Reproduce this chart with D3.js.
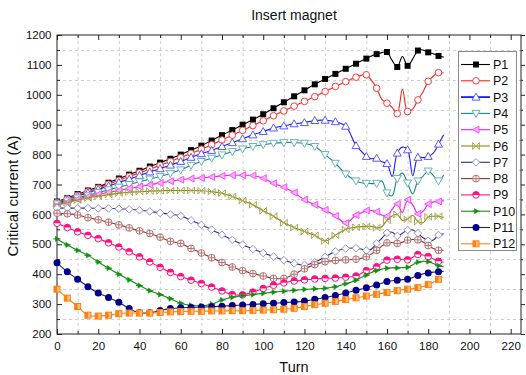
<!DOCTYPE html>
<html>
<head>
<meta charset="utf-8">
<script src="https://cdn.jsdelivr.net/npm/d3@7"></script>
<style>
  body { margin: 0; background: #fff; }
  svg { font-family: "Liberation Sans", Arial, sans-serif; display: block; }
</style>
</head>
<body>
<div id="chart"></div>
<script>
// turns where the symbols sit, and the extra points the curves go through
const turns = [0, 5, 10, 15, 20, 25, 30, 35, 40, 45, 50, 55, 60, 65, 70, 75, 80, 85, 90, 95,
  100, 105, 110, 115, 120, 125, 130, 135, 140, 145, 150, 155, 160, 165, 170, 175, 180, 185];
const fineTurns = [147.5, 152.5, 157.5, 162.5, 167.5, 172.5, 177.5, 182.5, 187.5];

const seriesNames = ['P1', 'P2', 'P3', 'P4', 'P5', 'P6', 'P7', 'P8', 'P9', 'P10', 'P11', 'P12'];

const p1 = [643, 655, 668, 680, 692, 706, 720, 733, 746, 760, 773, 786, 800, 815, 830, 847, 865, 882, 900, 917,
  935, 955, 975, 995, 1015, 1035, 1053, 1070, 1087, 1104, 1121, 1136, 1143, 1093, 1097, 1148, 1142, 1130];
const p2 = [640, 652, 664, 676, 688, 701, 714, 727, 739, 752, 764, 777, 790, 804, 818, 833, 849, 865, 881, 897,
  913, 930, 946, 962, 978, 994, 1011, 1028, 1044, 1059, 1067, 1022, 972, 937, 944, 983, 1045, 1074];
const p3 = [637, 649, 661, 672, 684, 695, 707, 718, 730, 742, 753, 765, 777, 791, 803, 814, 827, 840, 853, 866,
  877, 889, 896, 903, 907, 914, 915, 910, 895, 830, 794, 788, 770, 805, 816, 791, 794, 835];
const p4 = [635, 645, 655, 664, 673, 682, 691, 700, 709, 718, 727, 737, 749, 764, 777, 788, 799, 810, 819, 827,
  833, 838, 840, 840, 838, 827, 800, 771, 735, 712, 704, 704, 672, 720, 705, 712, 745, 712];
const p5 = [630, 641, 651, 660, 667, 674, 680, 687, 693, 699, 705, 711, 716, 720, 722, 725, 729, 731, 731, 730,
  721, 704, 691, 673, 649, 632, 615, 595, 571, 598, 613, 609, 594, 635, 649, 602, 635, 643];
const p6 = [632, 640, 648, 655, 661, 666, 671, 674, 676, 678, 679, 680, 680, 680, 679, 676, 671, 660, 646, 632,
  612, 594, 572, 556, 543, 530, 511, 530, 550, 557, 560, 555, 580, 600, 584, 576, 592, 594];
const p7 = [621, 621, 621, 621, 620, 620, 619, 617, 614, 610, 605, 600, 595, 580, 565, 549, 532, 515, 499, 484,
  471, 459, 447, 436, 431, 440, 458, 476, 486, 487, 479, 503, 538, 528, 548, 537, 512, 531];
const p8 = [604, 602, 598, 589, 582, 574, 565, 555, 545, 536, 524, 510, 503, 486, 471, 455, 439, 424, 412, 402,
  394, 386, 386, 400, 418, 432, 442, 446, 448, 450, 458, 480, 505, 503, 514, 515, 496, 480];
const p9 = [570, 556, 542, 530, 519, 505, 491, 475, 458, 441, 423, 406, 392, 380, 369, 357, 344, 332, 331, 340,
  352, 363, 371, 377, 381, 384, 386, 387, 390, 394, 412, 425, 447, 450, 448, 466, 459, 443];
const p10 = [518, 498, 480, 463, 441, 420, 400, 381, 362, 345, 332, 318, 303, 296, 294, 300, 314, 323, 328, 332,
  336, 340, 343, 346, 349, 351, 353, 358, 368, 380, 397, 412, 420, 421, 423, 440, 442, 428];
const p11 = [438, 408, 383, 358, 337, 322, 306, 285, 271, 271, 279, 285, 288, 289, 290, 291, 293, 295, 297, 299,
  301, 303, 305, 307, 310, 316, 322, 329, 337, 346, 355, 364, 376, 380, 383, 396, 404, 408];
const p12 = [350, 320, 292, 263, 260, 263, 268, 270, 270, 270, 272, 274, 275, 276, 276, 277, 277, 278, 278, 279,
  280, 281, 283, 286, 292, 298, 303, 309, 315, 321, 327, 333, 339, 345, 350, 355, 365, 383];

const p1Fine = [1113, 1130, 1141, 1115, 1128, 1120, 1150, 1137, 1126];
const p2Fine = [1065, 1048, 985, 958, 1019, 952, 1010, 1063, 1073];
const p3Fine = [812, 786, 776, 727, 825, 729, 790, 805, 866];
const p4Fine = [706, 703, 712, 662, 738, 668, 728, 730, 732];
const p5Fine = [605, 613, 598, 617, 606, 632, 610, 642, 646];
const p6Fine = [559, 560, 559, 595, 580, 597, 572, 594, 590];
const p7Fine = [484, 484, 520, 540, 537, 548, 522, 514, 535];
const p8Fine = [453, 468, 494, 506, 507, 516, 508, 486, 480];
const p9Fine = [402, 417, 437, 451, 449, 457, 464, 451, 440];
const p10Fine = [389, 406, 417, 421, 422, 432, 443, 436, 424];
const p11Fine = [350, 360, 370, 378, 382, 389, 401, 407, 410];
const p12Fine = [324, 330, 336, 342, 348, 352, 359, 373, 392];

const xTicks = [0, 20, 40, 60, 80, 100, 120, 140, 160, 180, 200, 220];
const xMinor = [10, 30, 50, 70, 90, 110, 130, 150, 170, 190, 210];
const yTicks = [200, 300, 400, 500, 600, 700, 800, 900, 1000, 1100, 1200];
const yMinor = [250, 350, 450, 550, 650, 750, 850, 950, 1050, 1150];

const allValues = [p1, p2, p3, p4, p5, p6, p7, p8, p9, p10, p11, p12];
const allFine = [p1Fine, p2Fine, p3Fine, p4Fine, p5Fine, p6Fine, p7Fine, p8Fine, p9Fine, p10Fine, p11Fine, p12Fine];

// look of each series: line colour, symbol kind, symbol stroke and fill
const styles = [
  { line: '#000000', kind: 'square', stroke: '#000000', fill: '#000000' },
  { line: '#ff2020', kind: 'circle', stroke: '#ff3a3a', fill: '#ffffff' },
  { line: '#1a1aff', kind: 'triUp', stroke: '#5a5aff', fill: '#ffffff' },
  { line: '#108a8a', kind: 'triDown', stroke: '#6ab4b4', fill: '#ffffff' },
  { line: '#ff10ff', kind: 'triLeft', stroke: '#ff50ff', fill: '#ffb0ff' },
  { line: '#8a8a10', kind: 'bowtie', stroke: '#a8a850', fill: 'none' },
  { line: '#2a2a96', kind: 'diamond', stroke: '#9090dc', fill: '#ffffff' },
  { line: '#963434', kind: 'circlePlus', stroke: '#b67070', fill: '#ffffff' },
  { line: '#ff1080', kind: 'halfCircle', stroke: '#ff1080', fill: '#ffffff' },
  { line: '#109010', kind: 'triRight', stroke: '#109010', fill: '#109010' },
  { line: '#1a1aa8', kind: 'dot', stroke: '#00008a', fill: '#00008a' },
  { line: '#ff8010', kind: 'halfSquare', stroke: '#ff8010', fill: '#ffc080' }
];

const svg = d3.select('#chart').append('svg')
  .attr('width', 526)
  .attr('height', 375);

const x = d3.scaleLinear().domain([0, 225]).range([57, 521]);
const y = d3.scaleLinear().domain([200, 1200]).range([334, 35]);

// dashed grid at the minor positions
const grid = svg.append('g').attr('stroke', '#cfcfcf').attr('stroke-dasharray', '3,3').attr('stroke-width', 1);
grid.selectAll('.gx').data(xMinor).join('line')
  .attr('x1', d => x(d) + 0.5).attr('x2', d => x(d) + 0.5)
  .attr('y1', y(1200)).attr('y2', y(200));
grid.selectAll('.gy').data(yMinor).join('line')
  .attr('y1', d => Math.round(y(d)) + 0.5).attr('y2', d => Math.round(y(d)) + 0.5)
  .attr('x1', x(0)).attr('x2', x(225));

// axes
function styleAxis(g) {
  g.select('.domain').remove();
  g.selectAll('line').attr('stroke', '#222');
  g.selectAll('text').attr('fill', '#111').style('font-size', '11.5px');
}

svg.append('g')
  .attr('transform', `translate(0,${y(200)})`)
  .call(d3.axisBottom(x).tickValues(xTicks).tickSize(-5).tickPadding(8).tickFormat(d3.format('d')))
  .call(styleAxis);
svg.append('g')
  .attr('transform', `translate(0,${y(200)})`)
  .call(d3.axisBottom(x).tickValues(xMinor).tickSize(-3).tickFormat(''))
  .call(styleAxis);
svg.append('g')
  .attr('transform', `translate(0,${y(1200)})`)
  .call(d3.axisTop(x).tickValues(xTicks).tickSize(-5).tickFormat(''))
  .call(styleAxis);
svg.append('g')
  .attr('transform', `translate(0,${y(1200)})`)
  .call(d3.axisTop(x).tickValues(xMinor).tickSize(-3).tickFormat(''))
  .call(styleAxis);
svg.append('g')
  .attr('transform', `translate(${x(0)},0)`)
  .call(d3.axisLeft(y).tickValues(yTicks).tickSize(-5).tickPadding(5.5).tickFormat(d3.format('d')))
  .call(styleAxis);
svg.append('g')
  .attr('transform', `translate(${x(0)},0)`)
  .call(d3.axisLeft(y).tickValues(yMinor).tickSize(-3).tickFormat(''))
  .call(styleAxis);
svg.append('g')
  .attr('transform', `translate(${x(225)},0)`)
  .call(d3.axisRight(y).tickValues(yTicks).tickSize(4).tickFormat(''))
  .call(styleAxis);
svg.append('g')
  .attr('transform', `translate(${x(225)},0)`)
  .call(d3.axisRight(y).tickValues(yMinor).tickSize(2).tickFormat(''))
  .call(styleAxis);

svg.append('rect')
  .attr('x', x(0)).attr('y', y(1200))
  .attr('width', x(225) - x(0)).attr('height', y(200) - y(1200))
  .attr('fill', 'none').attr('stroke', '#222').attr('stroke-width', 1);

// symbols
function drawSymbol(g, st) {
  const s = st.stroke, f = st.fill;
  switch (st.kind) {
    case 'square':
      g.append('rect').attr('x', -3).attr('y', -3).attr('width', 6).attr('height', 6).attr('fill', f);
      break;
    case 'circle':
      g.append('circle').attr('r', 3.3).attr('fill', f).attr('stroke', s).attr('stroke-width', 1);
      break;
    case 'triUp':
      g.append('path').attr('d', 'M0,-4L4,3L-4,3Z').attr('fill', f).attr('stroke', s);
      break;
    case 'triDown':
      g.append('path').attr('d', 'M0,4L4,-3L-4,-3Z').attr('fill', f).attr('stroke', s);
      break;
    case 'triLeft':
      g.append('path').attr('d', 'M-3.5,0L3,-3.5L3,3.5Z').attr('fill', f).attr('stroke', s);
      break;
    case 'triRight':
      g.append('path').attr('d', 'M-3.5,0H3.5').attr('stroke', s);
      g.append('path').attr('d', 'M2.5,0L-1.5,-2.6L-1.5,2.6Z').attr('fill', f).attr('stroke', s).attr('stroke-width', 0.6);
      break;
    case 'bowtie':
      g.append('path').attr('d', 'M-3.4,-3.4L3.4,3.4L3.4,-3.4L-3.4,3.4Z').attr('fill', f).attr('stroke', s);
      break;
    case 'diamond':
      g.append('path').attr('d', 'M0,-3.8L3.8,0L0,3.8L-3.8,0Z').attr('fill', f).attr('stroke', s);
      break;
    case 'circlePlus':
      g.append('circle').attr('r', 3.4).attr('fill', f).attr('stroke', s);
      g.append('path').attr('d', 'M-3.4,0H3.4M0,-3.4V3.4').attr('stroke', s);
      break;
    case 'halfCircle':
      g.append('circle').attr('r', 3.3).attr('fill', f).attr('stroke', s);
      g.append('path').attr('d', 'M-3.3,0A3.3,3.3 0 0 1 3.3,0Z').attr('fill', s);
      break;
    case 'dot':
      g.append('circle').attr('r', 3.5).attr('fill', f);
      break;
    case 'halfSquare':
      g.append('rect').attr('x', -3).attr('y', -3).attr('width', 6).attr('height', 6).attr('fill', f).attr('stroke', s);
      g.append('rect').attr('x', -3).attr('y', -3).attr('width', 3).attr('height', 6).attr('fill', s);
      break;
  }
}

const line = d3.line()
  .x(d => x(d[0]))
  .y(d => y(d[1]))
  .curve(d3.curveCatmullRom.alpha(0.5));

allValues.forEach((vals, i) => {
  const st = styles[i];
  const pts = turns.map((t, k) => [t, vals[k]])
    .concat(fineTurns.map((t, k) => [t, allFine[i][k]]))
    .sort((a, b) => a[0] - b[0]);
  const g = svg.append('g').attr('class', 'series');
  g.append('path')
    .datum(pts)
    .attr('d', line)
    .attr('fill', 'none')
    .attr('stroke', st.line)
    .attr('stroke-width', 1.1);
  g.selectAll('.mk')
    .data(turns.map((t, k) => [t, vals[k]]))
    .join('g')
    .attr('transform', d => `translate(${x(d[0])},${y(d[1])})`)
    .each(function () { drawSymbol(d3.select(this), st); });
});

// legend
const lg = svg.append('g');
lg.append('rect')
  .attr('x', 458.5).attr('y', 51.5).attr('width', 58).attr('height', 199)
  .attr('fill', '#fff').attr('stroke', '#8a8a8a').attr('stroke-width', 1);
seriesNames.forEach((name, i) => {
  const st = styles[i];
  const yy = 64.5 + i * 16.3;
  lg.append('line')
    .attr('x1', 461).attr('x2', 490).attr('y1', yy).attr('y2', yy)
    .attr('stroke', st.line).attr('stroke-width', i === 2 ? 1.8 : 1.1);
  drawSymbol(lg.append('g').attr('transform', `translate(476,${yy})`), st);
  lg.append('text')
    .attr('x', 493).attr('y', yy + 4.5)
    .attr('fill', '#111')
    .style('font-size', '12.5px')
    .text(name);
});

// titles
svg.append('text')
  .attr('x', 294).attr('y', 19.5)
  .attr('text-anchor', 'middle')
  .style('font-size', '14px')
  .attr('fill', '#111')
  .text('Insert magnet');
svg.append('text')
  .attr('x', 294).attr('y', 372)
  .attr('text-anchor', 'middle')
  .style('font-size', '14.5px')
  .attr('fill', '#111')
  .text('Turn');
svg.append('text')
  .attr('transform', 'translate(18,196) rotate(-90)')
  .attr('text-anchor', 'middle')
  .style('font-size', '15px')
  .attr('fill', '#111')
  .text('Critical current (A)');
</script>
</body>
</html>
